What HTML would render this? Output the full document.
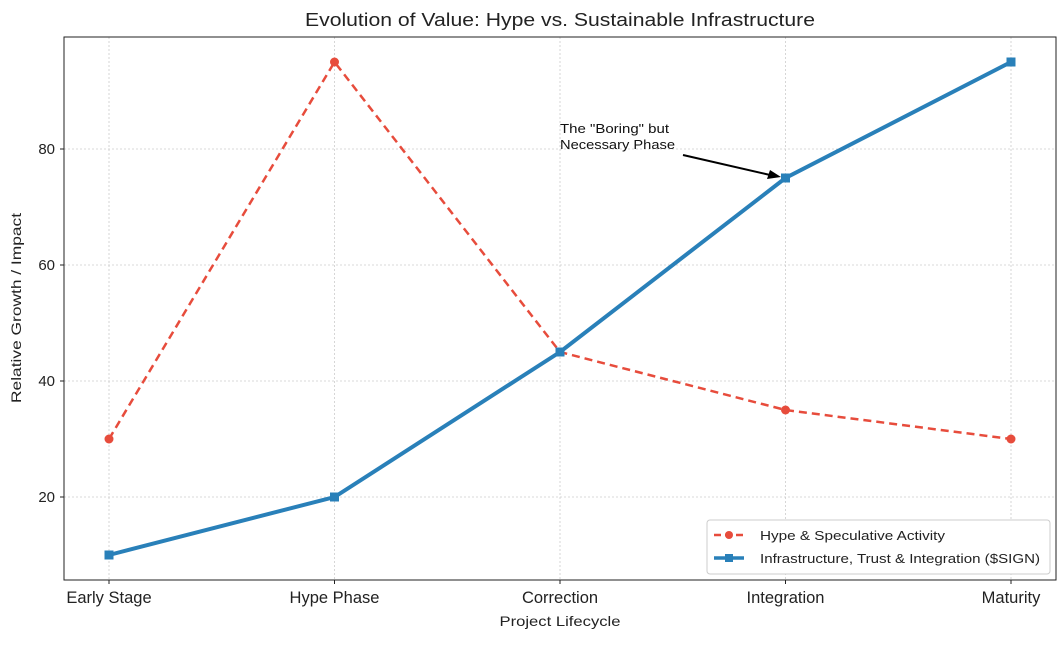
<!DOCTYPE html>
<html><head><meta charset="utf-8"><style>
body{margin:0;background:#fff;font-family:"Liberation Sans","DejaVu Sans",sans-serif}
</style></head><body>
<svg id="chart" width="1064" height="648" xmlns="http://www.w3.org/2000/svg">
<text x="560" y="26" text-anchor="middle" font-size="18.5" fill="#222" textLength="510" lengthAdjust="spacingAndGlyphs">Evolution of Value: Hype vs. Sustainable Infrastructure</text>
<g id="grid"></g>
<g id="ticks"></g>
<rect x="64" y="37" width="992" height="543" fill="none" stroke="#222" stroke-width="1"/>
<text x="560" y="626" text-anchor="middle" font-size="14" fill="#222" textLength="121" lengthAdjust="spacingAndGlyphs">Project Lifecycle</text>
<text transform="translate(21,308) rotate(-90)" text-anchor="middle" font-size="14" fill="#222" textLength="190" lengthAdjust="spacingAndGlyphs">Relative Growth / Impact</text>
<g id="series"></g>
<g>
<text x="560" y="133" font-size="12.5" fill="#111" textLength="109" lengthAdjust="spacingAndGlyphs">The "Boring" but</text>
<text x="560" y="149" font-size="12.5" fill="#111" textLength="115" lengthAdjust="spacingAndGlyphs">Necessary Phase</text>
<line x1="683" y1="155" x2="770" y2="175" stroke="#000" stroke-width="2"/>
<polygon points="781,177 767,179 770,170" fill="#000"/>
</g>
<g>
<rect x="707" y="520" width="343" height="54" rx="3" fill="#fff" stroke="#ccc"/>
<line x1="714" y1="535" x2="744" y2="535" stroke="#e74c3c" stroke-width="2.5" stroke-dasharray="7,4"/>
<circle cx="729" cy="535" r="4" fill="#e74c3c"/>
<text x="760" y="540" font-size="13" fill="#222" textLength="185" lengthAdjust="spacingAndGlyphs">Hype &amp; Speculative Activity</text>
<line x1="714" y1="558" x2="744" y2="558" stroke="#2980b9" stroke-width="3.5"/>
<rect x="725" y="554" width="8" height="8" fill="#2980b9"/>
<text x="760" y="563" font-size="13" fill="#222" textLength="280" lengthAdjust="spacingAndGlyphs">Infrastructure, Trust &amp; Integration ($SIGN)</text>
</g>
</svg>
<script>
const categories=["Early Stage","Hype Phase","Correction","Integration","Maturity"];
const hype=[30,95,45,35,30];
const infra=[10,20,45,75,95];
const yTicks=[20,40,60,80];
const NS="http://www.w3.org/2000/svg";
const xPos=i=>109+i*225.5;
const yPos=v=>613-v*5.8;
function mk(t,a,p){const e=document.createElementNS(NS,t);for(const k in a)e.setAttribute(k,a[k]);p.appendChild(e);return e;}
const grid=document.getElementById('grid'),ticks=document.getElementById('ticks'),series=document.getElementById('series');
yTicks.forEach(v=>{
 const g=mk('line',{x1:64,x2:1056,y1:yPos(v),y2:yPos(v),stroke:'#ccc','stroke-dasharray':'2,2','stroke-width':0.8},grid);
 
 
 mk('line',{x1:60,x2:64,y1:yPos(v),y2:yPos(v),stroke:'#222'},ticks);
 const t=mk('text',{x:55,y:yPos(v)+5,'text-anchor':'end','font-size':15,fill:'#222'},ticks);
 t.textContent=v;
 
 
});
categories.forEach((c,i)=>{
 const g=mk('line',{x1:xPos(i),x2:xPos(i),y1:37,y2:580,stroke:'#ccc','stroke-dasharray':'2,2','stroke-width':0.8},grid);
 
 
 mk('line',{x1:xPos(i),x2:xPos(i),y1:580,y2:584,stroke:'#222'},ticks);
 const t=mk('text',{x:xPos(i),y:603,'text-anchor':'middle','font-size':16.5,fill:'#222'},ticks);
 t.textContent=c;
 
 
});
const hp=mk('polyline',{points:hype.map((v,i)=>xPos(i)+','+yPos(v)).join(' '),fill:'none',stroke:'#e74c3c','stroke-width':2.5,'stroke-dasharray':'8,5'},series);


hype.forEach((v,i)=>{const c=mk('circle',{cx:xPos(i),cy:yPos(v),r:4.5,fill:'#e74c3c'},series);
 
 });
const ip=mk('polyline',{points:infra.map((v,i)=>xPos(i)+','+yPos(v)).join(' '),fill:'none',stroke:'#2980b9','stroke-width':4},series);


infra.forEach((v,i)=>{const r=mk('rect',{x:xPos(i)-4.5,y:yPos(v)-4.5,width:9,height:9,fill:'#2980b9'},series);
 
 });
</script>
</body></html>
